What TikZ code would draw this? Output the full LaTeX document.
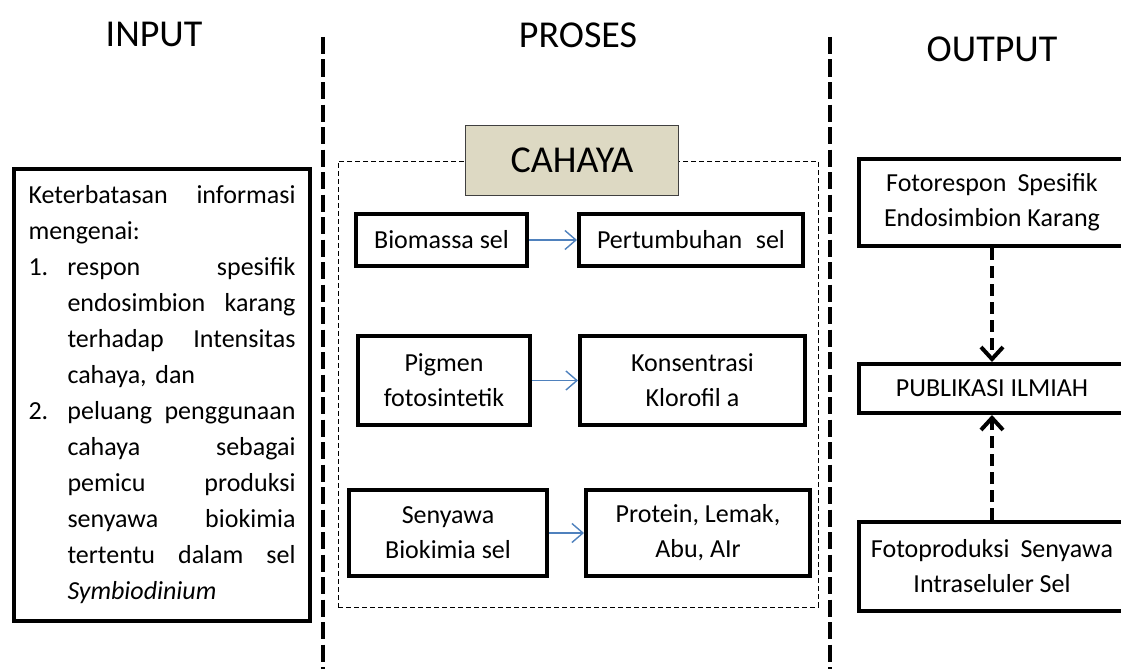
\documentclass[tikz,border=0pt]{standalone}
\usepackage{fontspec}
\setmainfont{Carlito}
\usetikzlibrary{arrows.meta}
\definecolor{tanfill}{HTML}{DDD9C3}
\definecolor{arrowblue}{HTML}{4F81BD}
\frenchspacing
\begin{document}
\begin{tikzpicture}[x=1pt,y=-1pt,
  header/.style={anchor=base, inner sep=0pt, font=\fontsize{38}{44}\selectfont},
  procbox/.style={draw, line width=4pt, align=center, inner sep=0pt,
    font=\fontsize{26}{35}\selectfont},
  outbox/.style={draw, line width=4pt, align=center, inner sep=0pt,
    font=\fontsize{26}{35}\selectfont, minimum width=266pt},
  divider/.style={line width=4pt, dash pattern=on 17pt off 5.5pt},
  blueconn/.style={draw=arrowblue, line width=1.4pt, -{Straight Barb[length=11pt,width=19pt]}},
  outconn/.style={line width=4pt, dash pattern=on 12pt off 6pt,
    -{Straight Barb[length=12pt,width=22pt]}},
  framebox/.style={draw, line width=1pt, dash pattern=on 5pt off 3pt,
    minimum width=480pt, minimum height=446pt, inner sep=0pt}]
\useasboundingbox (0,0) rectangle (1121,669);

% headers
\node[header] (hin) at (154,47) {INPUT};
\node[header] (hpro) at (578,48) {PROSES};
\node[header] (hout) at (992,62) {OUTPUT};

% dividers
\coordinate (d1a) at (323,37);
\coordinate (d1b) at (323,669);
\coordinate (d2a) at (830,37);
\coordinate (d2b) at (830,669);
\draw[divider] (d1a) -- (d1b);
\draw[divider] (d2a) -- (d2b);

% input box
\node[draw, line width=4pt, minimum width=296pt, minimum height=452pt,
  text width=267pt, inner xsep=14.5pt, inner ysep=0pt, align=left,
  font=\fontsize{26}{36}\selectfont] (input) at (162,395) {%
Keterbatasan\hfill informasi\\
mengenai:\\
\makebox[39pt][l]{1.}respon\hfill spesifik\\
\hspace*{39pt}endosimbion\hfill karang\\
\hspace*{39pt}terhadap\hfill Intensitas\\
\hspace*{39pt}cahaya, dan\\
\makebox[39pt][l]{2.}peluang\hfill penggunaan\\
\hspace*{39pt}cahaya\hfill sebagai\\
\hspace*{39pt}pemicu\hfill produksi\\
\hspace*{39pt}senyawa\hfill biokimia\\
\hspace*{39pt}tertentu\hfill dalam\hfill sel\\
\hspace*{39pt}\textit{Symbiodinium}};

% process frame
\node[framebox] (frame) at (578,384) {};
\node[draw=black!75, line width=1.3pt, fill=tanfill, minimum width=213pt,
  minimum height=70pt, inner sep=0pt, font=\fontsize{38}{44}\selectfont]
  (cahaya) at (572,160.5) {CAHAYA};

\node[procbox, minimum width=171pt, minimum height=52pt] (bio) at (441.5,240) {Biomassa sel};
\node[procbox, minimum width=224pt, minimum height=52pt] (tum) at (691,240) {Pertumbuhan\hspace{0.3em} sel};
\node[procbox, minimum width=172pt, minimum height=89pt] (pig) at (444,380.5) {Pigmen\\fotosintetik};
\node[procbox, minimum width=225pt, minimum height=89pt] (klo) at (692.5,380.5) {Konsentrasi\\Klorofil a};
\node[procbox, minimum width=198pt, minimum height=86pt] (sen) at (448,533) {Senyawa\\Biokimia sel};
\node[procbox, minimum width=224pt, minimum height=86pt] (pro) at (698,533) {Protein, Lemak,\\Abu, AIr};

\draw[blueconn] (bio.east) -- (tum.west);
\draw[blueconn] (pig.east) -- (klo.west);
\draw[blueconn] (sen.east) -- (pro.west);

% output
\node[outbox, minimum height=87pt] (foto) at (992,202.5) {Fotorespon\hspace{0.2em} Spesifik\\Endosimbion Karang};
\node[outbox, minimum height=49pt] (pub) at (992,388.5) {PUBLIKASI ILMIAH};
\node[outbox, minimum height=89pt] (prod) at (992,566.5) {Fotoproduksi\hspace{0.2em} Senyawa\\Intraseluler Sel};

\draw[outconn] (foto.south) -- (pub.north);
\draw[outconn] (prod.north) -- (pub.south);
\end{tikzpicture}
\end{document}
